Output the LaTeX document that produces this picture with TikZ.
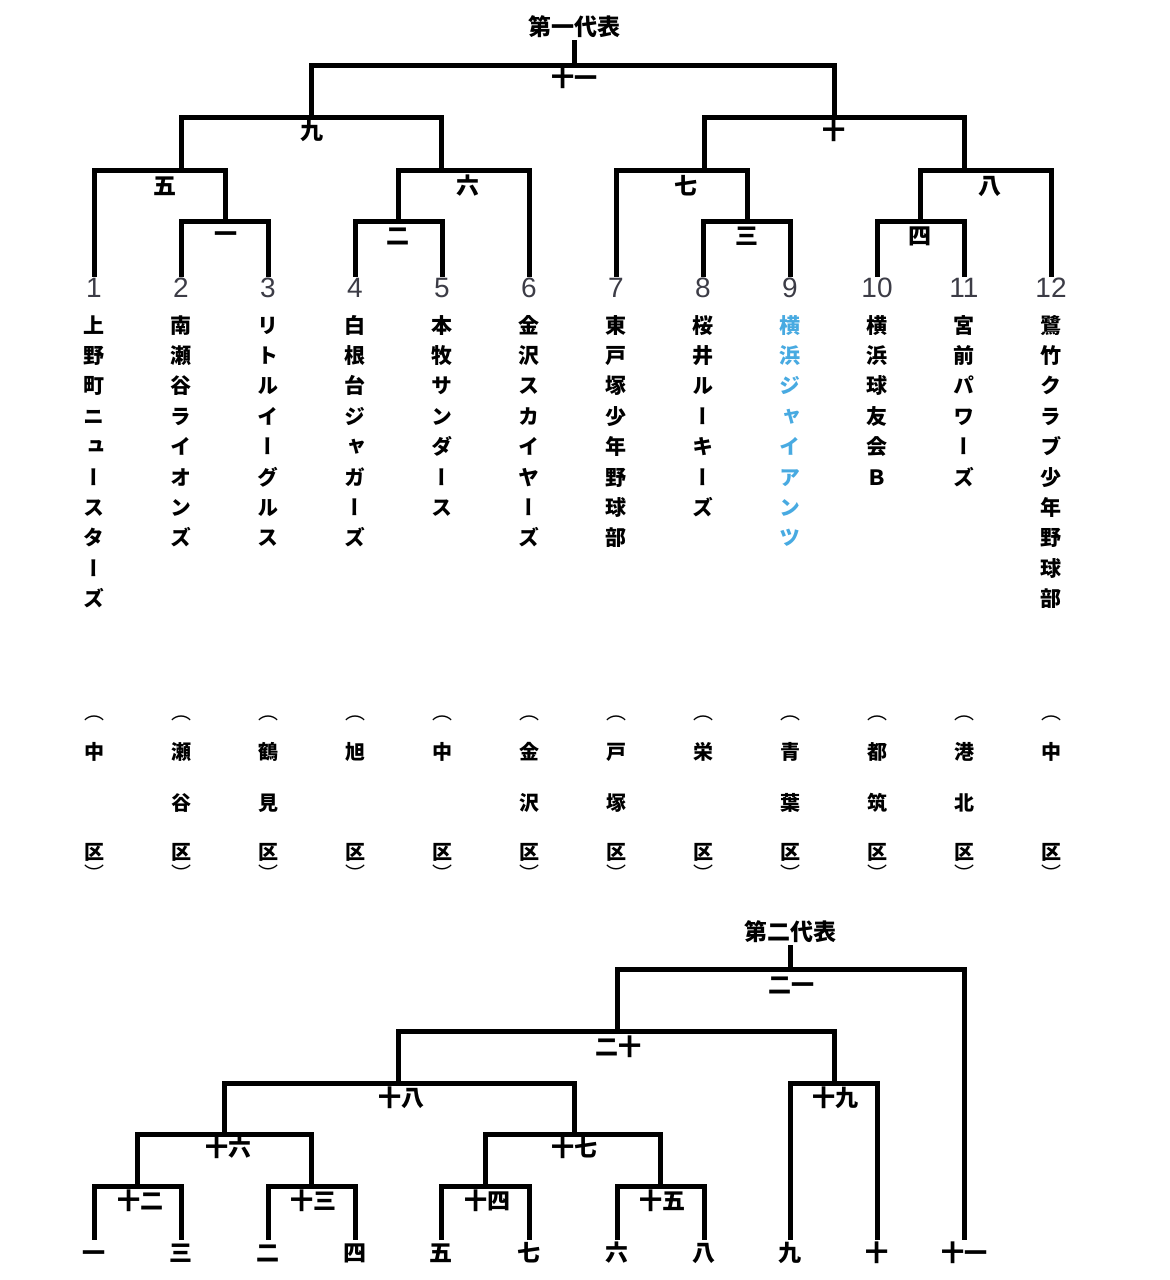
\documentclass[tikz,border=0pt]{standalone}
\usepackage{fontspec}
\newfontfamily\jpfont{Noto Sans CJK JP}
\newfontfamily\jpvfont[RawFeature=+vert]{Noto Sans CJK JP}
\newfontfamily\numfont{Liberation Sans}
\definecolor{teamblue}{RGB}{72,170,225}
\definecolor{numgray}{RGB}{60,60,70}

\begin{document}
\begin{tikzpicture}[x=1pt,y=-1pt,
	bracket/.style={line width=5pt},
	rnd/.style={font=\jpfont\bfseries\fontsize{23}{23}\selectfont, inner sep=1.5pt, text height=20.2pt, text depth=2.8pt},
	num/.style={font=\numfont\fontsize{28}{28}\selectfont, text=numgray, inner sep=0pt, text height=20pt, text depth=0pt},
	tch/.style={font=\jpvfont\bfseries\fontsize{21}{21}\selectfont, inner sep=0pt, text height=18.5pt, text depth=2.5pt},
	dch/.style={font=\jpvfont\bfseries\fontsize{20}{20}\selectfont, inner sep=0pt, text height=17.6pt, text depth=2.4pt},
	par/.style={font=\jpvfont\fontsize{20}{20}\selectfont, inner sep=0pt}]
	\useasboundingbox (0,0) rectangle (1170,1280);

	% Titles
	\node[rnd] (rep1) at (574,27) {第一代表};
	\node[rnd] (rep2) at (790,932) {第二代表};

	% Teams: number, name, district
	\foreach \i/\xx/\tname/\dname/\tcol in {
		1/94/{上,野,町,ニ,ュ,ー,ス,タ,ー,ズ}/{中/752,区/852}/black,
		2/181/{南,瀬,谷,ラ,イ,オ,ン,ズ}/{瀬/752,谷/803,区/852}/black,
		3/268/{リ,ト,ル,イ,ー,グ,ル,ス}/{鶴/752,見/803,区/852}/black,
		4/355/{白,根,台,ジ,ャ,ガ,ー,ズ}/{旭/752,区/852}/black,
		5/442/{本,牧,サ,ン,ダ,ー,ス}/{中/752,区/852}/black,
		6/529/{金,沢,ス,カ,イ,ヤ,ー,ズ}/{金/752,沢/803,区/852}/black,
		7/616/{東,戸,塚,少,年,野,球,部}/{戸/752,塚/803,区/852}/black,
		8/703/{桜,井,ル,ー,キ,ー,ズ}/{栄/752,区/852}/black,
		9/790/{横,浜,ジ,ャ,イ,ア,ン,ツ}/{青/752,葉/803,区/852}/teamblue,
		10/877/{横,浜,球,友,会,Ｂ}/{都/752,筑/803,区/852}/black,
		11/964/{宮,前,パ,ワ,ー,ズ}/{港/752,北/803,区/852}/black,
		12/1051/{鷺,竹,ク,ラ,ブ,少,年,野,球,部}/{中/752,区/852}/black}{
		\node[num] (n\i) at (\xx,287) {\i};
		\foreach \c [count=\k] in \tname
			\node[tch, text=\tcol] (t\i-\k) at (\xx,{325+30.4*(\k-1)}) {\c};
		\node[par] (po\i) at (\xx,718) {（};
		\foreach \c/\yy [count=\k] in \dname
			\node[dch] (d\i-\k) at (\xx,\yy) {\c};
		\node[par] (pc\i) at (\xx,873) {）};
	}

	% First bracket
	\coordinate (m1) at (225,221);
	\coordinate (m2) at (398,221);
	\coordinate (m3) at (747,221);
	\coordinate (m4) at (920,221);
	\coordinate (m5) at (181,170);
	\coordinate (m6) at (441,170);
	\coordinate (m7) at (704,170);
	\coordinate (m8) at (964,170);
	\coordinate (m9) at (311,117);
	\coordinate (m10) at (834,117);
	\coordinate (m11) at (574,65);

	\draw[bracket] (n2) |- (m1) -| (n3);
	\draw[bracket] (n4) |- (m2) -| (n5);
	\draw[bracket] (n8) |- (m3) -| (n9);
	\draw[bracket] (n10) |- (m4) -| (n11);
	\draw[bracket] (n1) |- (m5) -| (m1);
	\draw[bracket] (m2) |- (m6) -| (n6);
	\draw[bracket] (n7) |- (m7) -| (m3);
	\draw[bracket] (m4) |- (m8) -| (n12);
	\draw[bracket] (m5) |- (m9) -| (m6);
	\draw[bracket] (m7) |- (m10) -| (m8);
	\draw[bracket] (m9) |- (m11) -| (m10);
	\draw[bracket] (m11) -- (rep1);

	\foreach \xx/\yy/\tx [count=\r] in {574/78/十一, 312/131/九, 834/131/十,
		165/186/五, 468/186/六, 686/186/七, 990/186/八,
		226/234/一, 398/236/二, 747/236/三, 920/236/四}
		\node[rnd] (ra\r) at (\xx,\yy) {\tx};

	% Second bracket
	\foreach \nm/\xx/\tx in {b1/94/一, b3/181/三, b2/268/二, b4/355/四, b5/441/五,
		b7/529/七, b6/617/六, b8/704/八, b9/790/九, b10/877/十, b11/964/十一}
		\node[rnd] (\nm) at (\xx,1253) {\tx};

	\coordinate (k12) at (137,1186);
	\coordinate (k13) at (311,1186);
	\coordinate (k14) at (485,1186);
	\coordinate (k15) at (660,1186);
	\coordinate (k16) at (224,1134);
	\coordinate (k17) at (574,1134);
	\coordinate (k18) at (398,1083);
	\coordinate (k19) at (834,1083);
	\coordinate (k20) at (617,1031);
	\coordinate (k21) at (790,969);

	\draw[bracket] (b1) |- (k12) -| (b3);
	\draw[bracket] (b2) |- (k13) -| (b4);
	\draw[bracket] (b5) |- (k14) -| (b7);
	\draw[bracket] (b6) |- (k15) -| (b8);
	\draw[bracket] (k12) |- (k16) -| (k13);
	\draw[bracket] (k14) |- (k17) -| (k15);
	\draw[bracket] (k16) |- (k18) -| (k17);
	\draw[bracket] (b9) |- (k19) -| (b10);
	\draw[bracket] (k18) |- (k20) -| (k19);
	\draw[bracket] (k20) |- (k21) -| (b11);
	\draw[bracket] (k21) -- (rep2);

	\foreach \xx/\yy/\tx [count=\r] in {140/1201/十二, 313/1201/十三, 487/1201/十四,
		662/1201/十五, 228/1148/十六, 574/1148/十七, 401/1098/十八,
		835/1098/十九, 618/1047/二十, 791/985/二一}
		\node[rnd] (rb\r) at (\xx,\yy) {\tx};
\end{tikzpicture}
\end{document}
